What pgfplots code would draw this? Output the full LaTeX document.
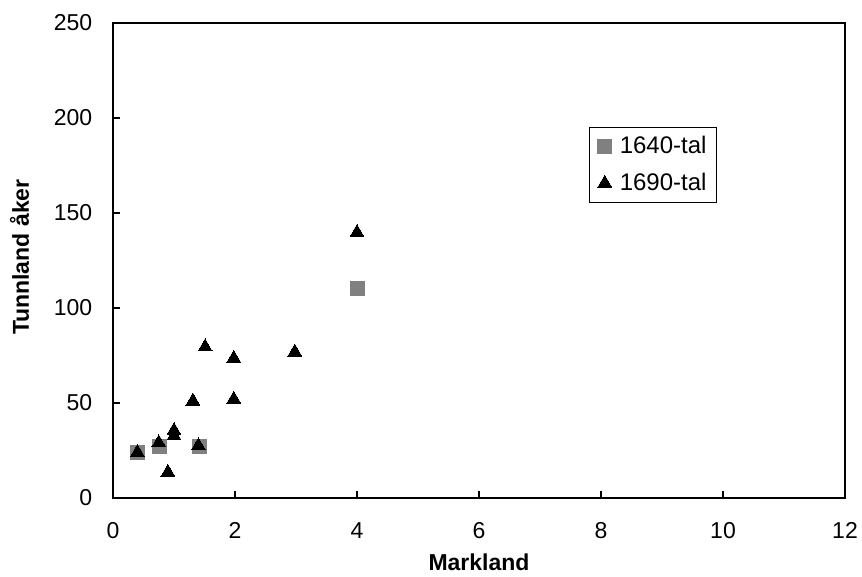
\documentclass[border=0pt]{standalone}
\usepackage{pgfplots}
\pgfplotsset{compat=1.18}
\usepackage{fontspec}
\setmainfont{Liberation Sans}
\definecolor{sqgray}{RGB}{128,128,128}
\newcommand{\lf}{\fontsize{24}{28}\selectfont}
\begin{document}
\fontsize{23}{27}\selectfont
\begin{tikzpicture}
\useasboundingbox (0,0) rectangle (862pt,576pt);
\begin{axis}[
  at={(113pt,78pt)}, anchor=south west,
  scale only axis, width=732pt, height=475pt,
  xmin=0, xmax=12, ymin=0, ymax=250,
  xtick={0,2,...,12}, ytick={0,50,...,250},
  axis line style={line width=2.4pt},
  xtick pos=bottom, ytick pos=left,
  tick style={line width=2pt, black},
  tick align=inside, major tick length=7pt,
  every axis plot/.append style={only marks},
  ticklabel style={font=\fontsize{23}{27}\selectfont},
  /pgf/number format/assume math mode=true,
  xticklabel style={yshift=-17pt},
  yticklabel style={xshift=-13pt},
  xlabel={\textbf{Markland}}, ylabel={\textbf{Tunnland åker}},
  label style={font=\fontsize{23}{27}\selectfont},
  xlabel style={at={(axis description cs:0.5,0)}, anchor=north, yshift=-48pt},
  ylabel style={at={(axis description cs:0,0.507)}, anchor=south, yshift=76pt},
  clip=false,
  legend image code/.code={\draw[#1, only marks] plot coordinates {(0pt,0pt)};},
  legend style={at={(rel axis cs:0.825,0.621)}, anchor=south east,
    draw=black, line width=0.8pt, font=\lf,
    /tikz/every odd column/.append style={column sep=6pt},
    inner xsep=8pt, inner ysep=7pt, row sep=12pt},
  legend cell align=left,
]
\addplot[mark=square*, mark size=7pt, draw=sqgray, fill=sqgray, mark options={line width=0pt, draw=sqgray, fill=sqgray}] coordinates {
  (0.40,24) (0.77,27) (1.41,27) (4.0,110)
};
\addlegendentry{1640-tal}
\addplot[mark=triangle*, mark size=8pt, draw=black, fill=black, mark options={line width=0pt}] coordinates {
  (0.40,24) (0.75,29) (0.90,13.5) (1.0,35.5) (1.0,32.8) (1.31,51) (1.40,27.5)
  (1.51,79.5) (1.98,73.5) (1.98,52) (2.98,76.8) (4.0,139.7)
};
\addlegendentry{1690-tal}
\end{axis}
\end{tikzpicture}
\end{document}
